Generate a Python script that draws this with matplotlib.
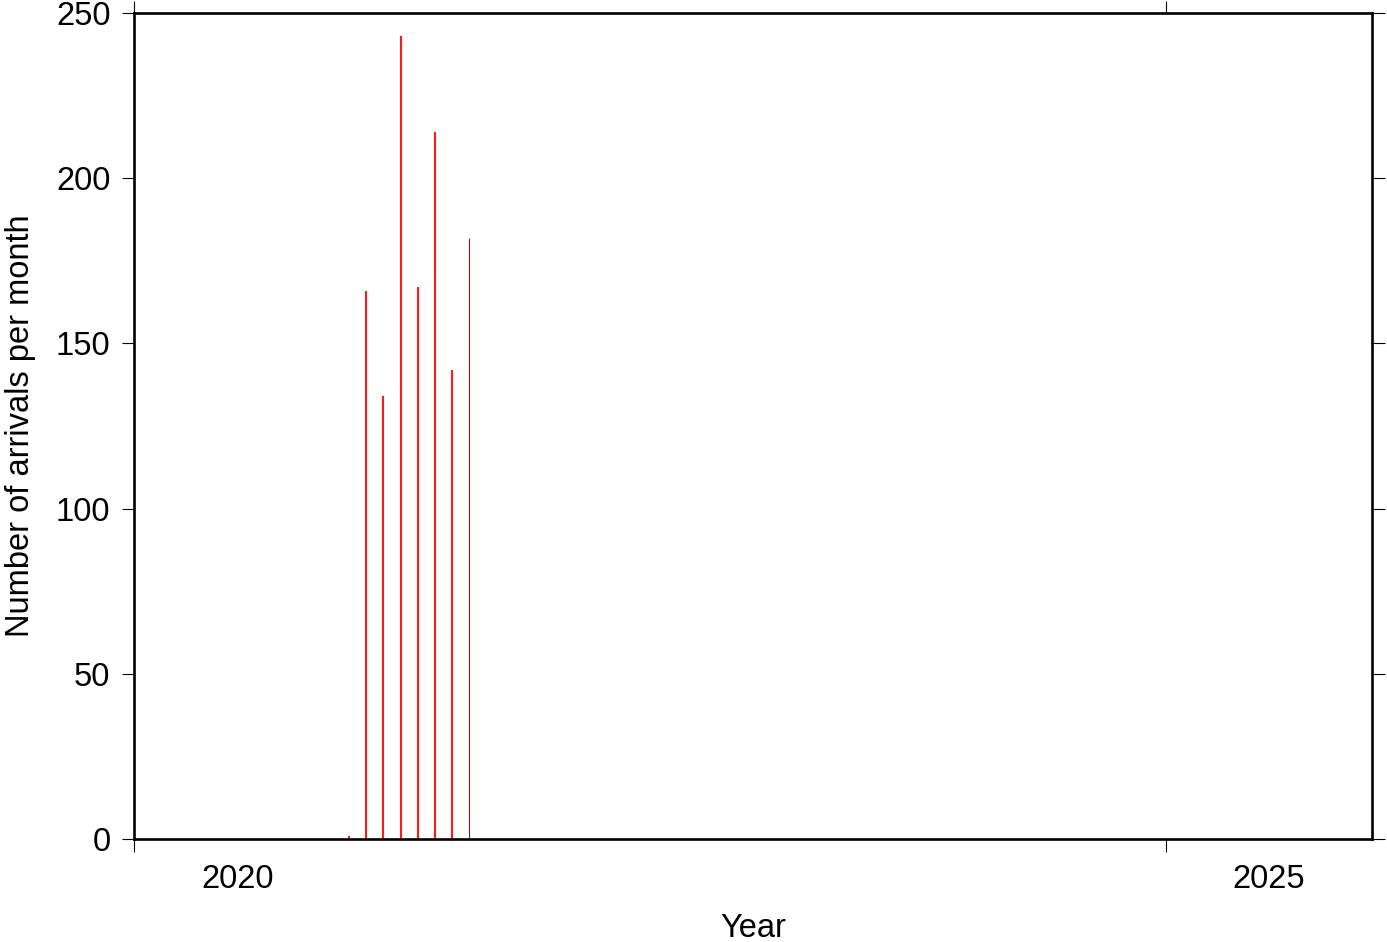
import matplotlib
matplotlib.use("Agg")
import matplotlib.pyplot as plt

plt.rcParams['font.family'] = ['Liberation Sans', 'DejaVu Sans']

# monthly arrivals, 2021 (month number, count)
months = [1, 2, 3, 4, 5, 6, 7, 8]
counts = [1, 166, 134, 243, 167, 214, 142, 182]
year = 2021
year_labels = ['2020', '2025']

W, H = 1387, 942
fig = plt.figure(figsize=(W / 100, H / 100), dpi=100)
ax = fig.add_axes([134 / W, (H - 839) / H, 1238 / W, 826 / H])

x = [year + (m - 0.5) / 12 for m in months]
# all but the last (current) month in red
ax.vlines(x[:-1], 0, counts[:-1], color='#ff1a1a', linewidth=1.5)
ax.vlines(x[-1:], 0, counts[-1:], color='#a01010', linewidth=0.8)

ax.set_xlim(2020, 2026)
ax.set_ylim(0, 250)

ax.set_xticks([2020, 2025])
ax.set_xticklabels([])
ax.set_xticks([2020.5, 2025.5], minor=True)
ax.set_xticklabels(year_labels, minor=True)
ax.set_yticks([0, 50, 100, 150, 200, 250])

fs = 23.5
ax.tick_params(axis='both', which='major', direction='out', length=9, width=0.8,
               top=True, right=True, labelsize=fs)
ax.tick_params(axis='x', which='minor', length=0, pad=18, labelsize=fs)
ax.tick_params(axis='y', which='major', pad=8)

for s in ax.spines.values():
    s.set_linewidth(1.9)

ax.set_xlabel('Year', fontsize=fs, labelpad=13)
ax.set_ylabel('Number of arrivals per month', fontsize=fs, labelpad=14)

fig.savefig('out.png', dpi=100)
